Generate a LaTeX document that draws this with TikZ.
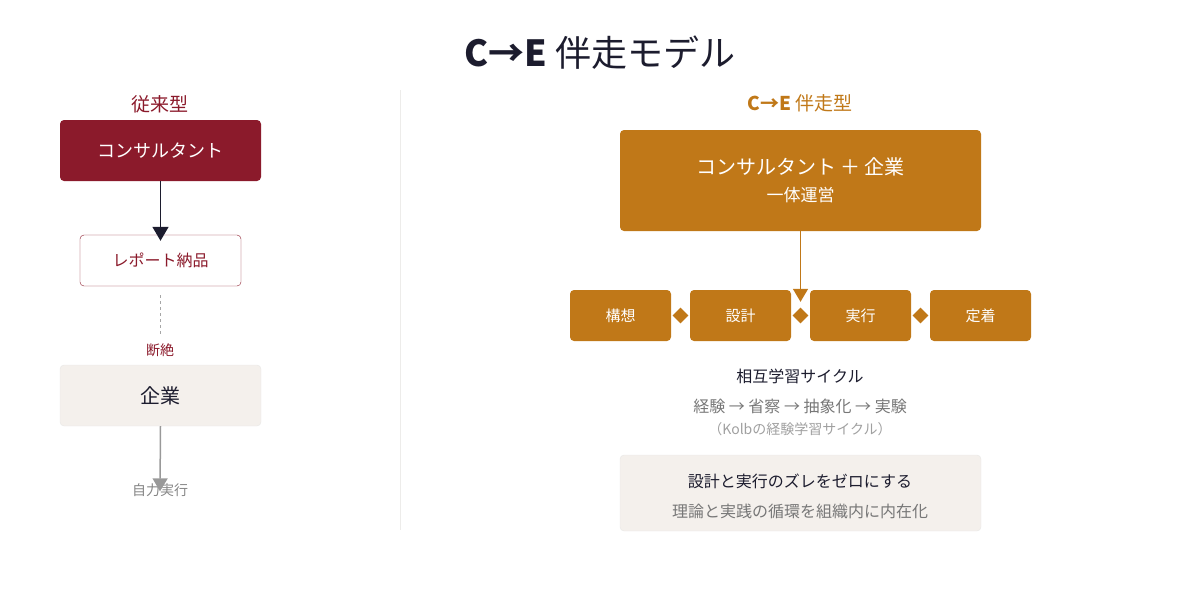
\documentclass[tikz,border=0pt]{standalone}
\usepackage{fontspec}
\setmainfont{Noto Sans CJK JP}
\usetikzlibrary{arrows.meta,shapes.geometric,calc}
\definecolor{maroon}{HTML}{8B1A2B}
\definecolor{gold}{HTML}{C07818}
\definecolor{ink}{HTML}{1C1C2E}
\definecolor{beige}{HTML}{F4F0EC}
\definecolor{greyt}{HTML}{777777}
\tikzset{
 box/.style={rounded corners=4pt,minimum height=#1,inner sep=0pt},
 tx/.style={inner sep=0pt,font=\fontsize{12}{14}\selectfont},
}
\begin{document}
\begin{tikzpicture}[x=1pt,y=-1pt]
\useasboundingbox (0,0) rectangle (1200,600);
\node[tx,font=\fontsize{36}{40}\selectfont,text=ink] (title) at (600,53) {\textbf{C→E} 伴走モデル};
% left
\node[tx,font=\fontsize{19}{22}\selectfont,text=maroon] (lt) at (160,104) {従来型};
\node[box=61pt,minimum width=201pt,fill=maroon,text=white,font=\fontsize{18}{20}\selectfont] (c1) at (160.5,150.5) {コンサルタント};
\node[box=51pt,minimum width=161pt,draw=maroon,fill=white,text=maroon,font=\fontsize{16}{18}\selectfont] (r) at (160.5,260.5) {レポート納品};
\draw[ink,line width=1.5pt,-{Triangle[length=14pt,width=16pt]}] (c1.south) -- ([yshift=-6pt]r.north);
\coordinate (d1) at (160,295); \coordinate (d2) at (160,335);
\draw[gray!70,dashed] (d1) -- (d2);
\node[tx,text=maroon,font=\fontsize{14}{16}\selectfont] (dz) at (160,350) {断絶};
\node[box=61pt,minimum width=201pt,draw=beige!60!gray!40,fill=beige,text=ink,font=\fontsize{20}{22}\selectfont] (k) at (160.5,395.5) {企業};
\node[tx,text=greyt!90,font=\fontsize{14}{16}\selectfont] (jr) at (160,490) {自力実行};
\draw[gray!80,line width=1.5pt,-{Triangle[length=13pt,width=15pt]}] (k.south) -- ([yshift=-8pt]jr.north);
\coordinate (v1) at (400,90); \coordinate (v2) at (400,530);
\draw[beige!70!gray!40] (v1) -- (v2);
% right
\node[tx,font=\fontsize{19}{22}\selectfont,text=gold] (rt) at (800,103) {\textbf{C→E} 伴走型};
\node[box=101pt,minimum width=361pt,fill=gold,text=white,align=center] (big) at (800.5,180.5) {{\fontsize{20}{22}\selectfont コンサルタント ＋ 企業}\\[10pt]{\fontsize{17}{20}\selectfont 一体運営}};
\foreach \n/\t/\x in {s1/構想/620.5,s2/設計/740.5,s3/実行/860.5,s4/定着/980.5}
  \node[box=51pt,minimum width=101pt,fill=gold,text=white,font=\fontsize{15}{17}\selectfont] (\n) at (\x,315.5) {\t};
\draw[gold,line width=1.5pt,-{Triangle[length=13pt,width=15pt]}] (big.south) -- ([yshift=-12pt]s2.north -| big.south);
\foreach \a/\b in {s1/s2,s2/s3,s3/s4}
  \node[diamond,fill=gold,minimum size=16pt,inner sep=0pt] (dm\a) at ($(\a.east)!0.5!(\b.west)$) {};
\node[tx,text=ink,font=\fontsize{16}{18}\selectfont] (m1) at (800,376) {相互学習サイクル};
\node[tx,text=greyt,font=\fontsize{16}{18}\selectfont] (m2) at (800,406) {経験 → 省察 → 抽象化 → 実験};
\node[tx,text=greyt!70,font=\fontsize{14}{16}\selectfont] (m3) at (800,429) {（Kolbの経験学習サイクル）};
\node[box=76pt,minimum width=361pt,draw=beige!60!gray!40,fill=beige,align=center] (bot) at (800.5,493) {};
\node[tx,text=ink,font=\fontsize{16}{18}\selectfont] (b1) at (800,481) {設計と実行のズレをゼロにする};
\node[tx,text=greyt,font=\fontsize{16}{18}\selectfont] (b2) at (800,511) {理論と実践の循環を組織内に内在化};
\end{tikzpicture}
\end{document}
